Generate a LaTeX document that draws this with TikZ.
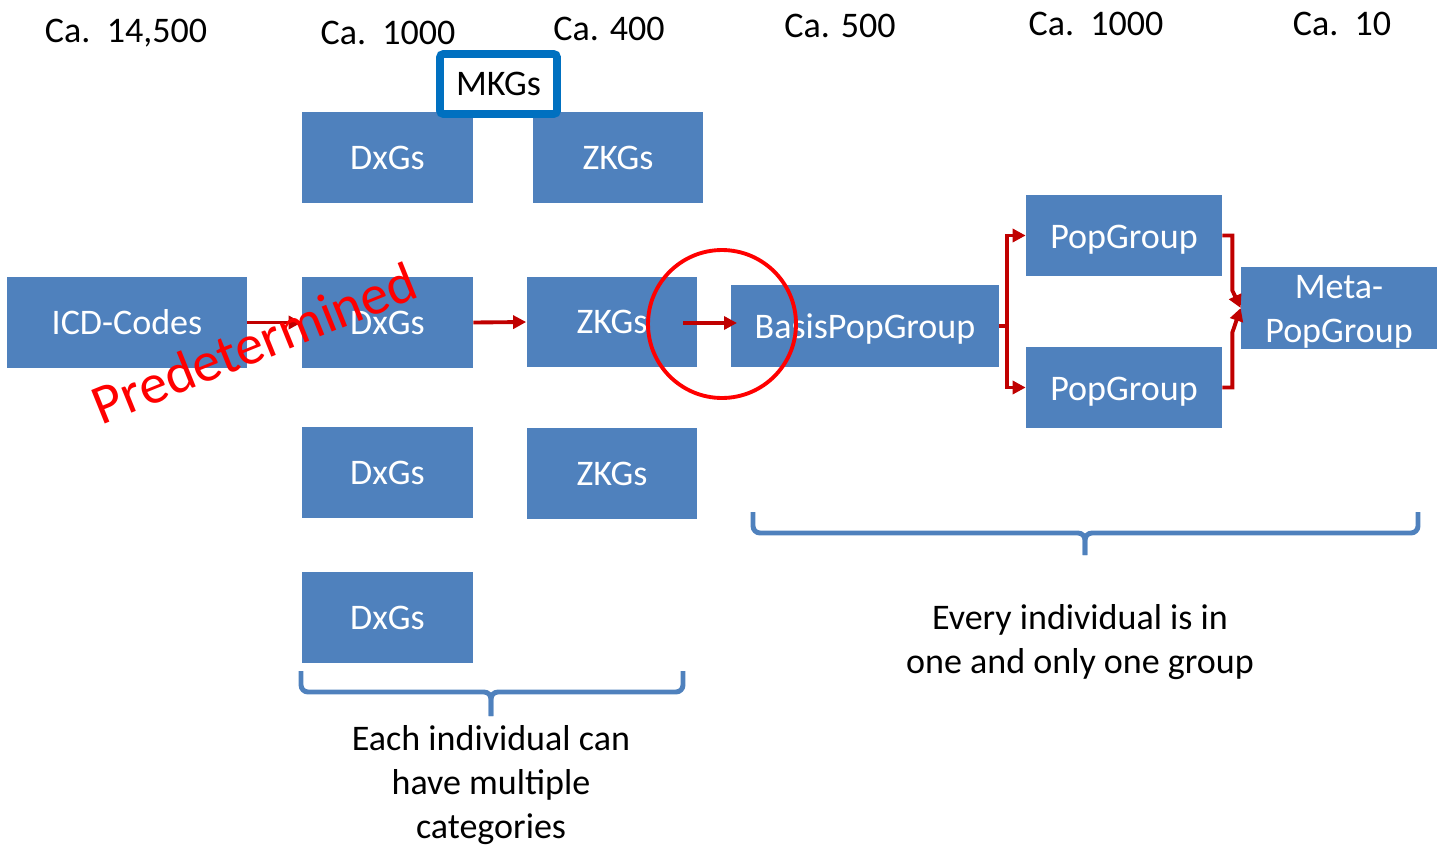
\documentclass[tikz,border=0pt]{standalone}
\usepackage{fontspec}
\setmainfont{Carlito}
\usetikzlibrary{arrows.meta}
\definecolor{boxblue}{HTML}{4F81BD}
\definecolor{mkgblue}{HTML}{0070C0}
\definecolor{arrowred}{HTML}{C00000}
\definecolor{markred}{HTML}{FF0000}

\begin{document}
\begin{tikzpicture}[
    x=0.02cm, y=-0.02cm,
    every node/.style={font=\fontsize{20.5}{25}\selectfont},
    grp/.style={fill=boxblue, text=white, inner sep=0pt, minimum width=3.42cm, minimum height=1.82cm},
    pop/.style={fill=boxblue, text=white, inner sep=0pt, minimum width=3.92cm, minimum height=1.63cm,
                align=center, text height=14.5pt, text depth=0pt},
    flow/.style={-{Triangle[length=0.26cm, width=0.26cm]}, arrowred, line width=2.2pt},
    bracket/.style={boxblue, line width=2.8pt, rounded corners=4pt}
]
    \useasboundingbox (0,0) rectangle (1442,848);

    % counts per level
    \node (c1) at (126,33) {Ca.\ \ 14,500};
    \node (c2) at (388,33) {Ca.\ \ 1000};
    \node (c3) at (609,29) {Ca. 400};
    \node (c4) at (840,26) {Ca. 500};
    \node (c5) at (1096,24) {Ca.\ \ 1000};
    \node (c6) at (1342,24) {Ca.\ \ 10};

    \node[grp, minimum width=4.8cm] at (127,322.5) (icd) {ICD-Codes};

    \node[grp] at (387.5,157.5) (dx1) {DxGs};
    \node[grp] at (387.5,322.5) (dx2) {DxGs};
    \node[grp] at (387.5,472.5) (dx3) {DxGs};
    \node[grp] at (387.5,617.5) (dx4) {DxGs};

    \node[grp] at (618,157.5) (zk1) {ZKGs};
    \node[grp] at (612,322) (zk2) {ZKGs};
    \node[grp] at (612,473.5) (zk3) {ZKGs};

    \node[draw=mkgblue, line width=4.5pt, rounded corners=2pt, fill=white,
          inner sep=0pt, minimum width=2.34cm, minimum height=1.2cm] at (498.5,84) (mkg) {MKGs};

    \node[pop, minimum width=5.36cm] at (865,326) (basis) {BasisPopGroup};
    \node[pop] at (1124,235.5) (pg1) {PopGroup};
    \node[pop] at (1124,387.5) (pg2) {PopGroup};
    \node[pop, text height=39.3pt] at (1339,308) (meta) {Meta-\\PopGroup};

    \draw[flow] (icd.east) -- (dx2.west);
    \draw[flow] (dx2.east) -- (zk2.west);
    \coordinate (a3s) at (683,323);
    \coordinate (a3e) at (737,323);
    \draw[flow] (a3s) -- (a3e);
    \draw[flow] (basis.east) -- ++(8,0) |- (pg1.west);
    \draw[flow] (basis.east) -- ++(8,0) |- (pg2.west);
    \draw[flow] (pg1.east) -- ++(10,0) -- ++(0,55) -- (meta.west);
    \draw[flow] (pg2.east) -- ++(10,0) -- ++(0,-55) -- (meta.west);

    \node[circle, draw=markred, line width=2.2pt, minimum size=2.96cm, inner sep=0pt] at (722,324) (ring) {};

    \node[rotate=22, text=markred, font=\fontsize{32}{38}\selectfont] at (254,343) (pre) {Predetermined};

    % braces and notes
    \draw[bracket] (301,671) -- (301,692) -- (491,692) -- (491,716);
    \draw[bracket] (683,671) -- (683,692) -- (491,692) -- (491,716);
    \draw[bracket] (753,512) -- (753,533) -- (1085,533) -- (1085,555);
    \draw[bracket] (1418,512) -- (1418,533) -- (1085,533) -- (1085,555);
    \node[align=center] at (491,785) (note1) {Each individual can\\have multiple\\categories};
    \node[align=center] at (1080,642) (note2) {Every individual is in\\one and only one group};
\end{tikzpicture}
\end{document}
